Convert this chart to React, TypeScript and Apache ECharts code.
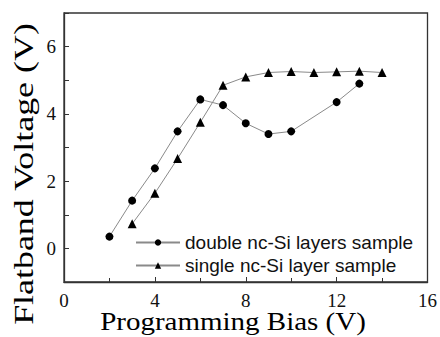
import React, { useEffect, useRef } from "react";
import * as echarts from "echarts";

const doubleX = [2, 3, 4, 5, 6, 7, 8, 9, 10, 12, 13];
const doubleY = [0.35, 1.42, 2.38, 3.48, 4.43, 4.26, 3.72, 3.4, 3.48, 4.35, 4.9];
const singleX = [3, 4, 5, 6, 7, 8, 9, 10, 11, 12, 13, 14];
const singleY = [0.73, 1.64, 2.67, 3.75, 4.85, 5.1, 5.23, 5.26, 5.23, 5.25, 5.27, 5.23];
const seriesNames = ["double nc-Si layers sample", "single nc-Si layer sample"];
const xTitle = "Programming Bias (V)";
const yTitle = "Flatband Voltage (V)";
const yLabelValues = [0, 2, 4, 6];

const serif = "Liberation Serif";
const sans = "Liberation Sans";

export default function App() {
  const ref = useRef<HTMLDivElement>(null);
  useEffect(() => {
    if (!ref.current) return;
    const chart = echarts.init(ref.current, undefined, { renderer: "svg" });
    const pair = (xs: number[], ys: number[]) => xs.map((x, i) => [x, ys[i]]);
    chart.setOption({
      animation: false,
      backgroundColor: "#fff",
      grid: {
        left: 64,
        right: 12,
        top: 13,
        bottom: 55,
        show: true,
        borderColor: "#333",
        borderWidth: 1.3,
      },
      xAxis: {
        type: "value",
        min: 0,
        max: 16,
        interval: 4,
        axisLine: { show: true, onZero: false, lineStyle: { color: "#333", width: 1.3 } },
        axisTick: { show: true, inside: true, length: 5, lineStyle: { color: "#333" } },
        minorTick: { show: true, splitNumber: 2, length: 4, lineStyle: { color: "#333" } },
        splitLine: { show: false },
        axisLabel: { fontFamily: serif, fontSize: 19, color: "#111", margin: 9 },
      },
      yAxis: {
        type: "value",
        min: -1,
        max: 7,
        interval: 1,
        axisLine: { show: true, onZero: false, lineStyle: { color: "#333", width: 1.3 } },
        axisTick: { show: true, inside: true, length: 5, lineStyle: { color: "#333" } },
        splitLine: { show: false },
        axisLabel: {
          fontFamily: serif,
          fontSize: 19,
          color: "#111",
          margin: 8,
          formatter: (v: number) => (yLabelValues.includes(v) ? String(v) : ""),
        },
      },
      legend: {
        orient: "vertical",
        left: 135,
        top: 233,
        padding: 0,
        itemWidth: 44,
        itemHeight: 8,
        itemGap: 4,
        textStyle: { fontFamily: sans, fontSize: 19, color: "#111", lineHeight: 19 },
        data: seriesNames,
      },
      series: [
        {
          name: seriesNames[0],
          type: "line",
          data: pair(doubleX, doubleY),
          symbol: "circle",
          symbolSize: 8,
          itemStyle: { color: "#000" },
          lineStyle: { color: "#8a8a8a", width: 1 },
        },
        {
          name: seriesNames[1],
          type: "line",
          data: pair(singleX, singleY),
          symbol: "triangle",
          symbolSize: 9,
          itemStyle: { color: "#000" },
          lineStyle: { color: "#8a8a8a", width: 1 },
        },
      ],
      graphic: [
        {
          type: "text",
          x: 233,
          y: 322,
          scaleX: 1.16,
          style: {
            text: xTitle,
            fontFamily: serif,
            fontSize: 25,
            fill: "#000",
            align: "center",
            verticalAlign: "middle",
          },
        },
        {
          type: "text",
          x: 24,
          y: 174,
          rotation: Math.PI / 2,
          scaleX: 1.33,
          style: {
            text: yTitle,
            fontFamily: serif,
            fontSize: 27,
            fill: "#000",
            align: "center",
            verticalAlign: "middle",
          },
        },
      ],
    });
    return () => chart.dispose();
  }, []);
  return (
    <div
      ref={ref}
      style={{ position: "fixed", left: 0, top: 0, width: 440, height: 337 }}
    />
  );
}
